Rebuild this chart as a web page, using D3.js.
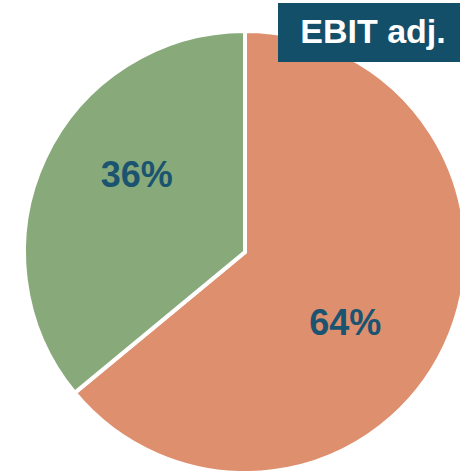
<!DOCTYPE html>
<html lang="en">
<head>
<meta charset="utf-8">
<title>EBIT adj. pie</title>
<script src="https://cdn.jsdelivr.net/npm/d3@7"></script>
<style>
  body { margin: 0; background: #fff; }
  svg { display: block; }
</style>
</head>
<body>
<script>
// shares of EBIT adj.
var categories = ["A", "B"];
var values = [64, 36];
var labels = ["64%", "36%"];
var title = "EBIT adj.";

var w = 460, h = 471;
var cx = 245, cy = 252, r = 221;

var color = d3.scaleOrdinal()
  .domain(categories)
  .range(["#DE8F6E", "#88AA7A"]);

var svg = d3.select("body").append("svg")
  .attr("width", w)
  .attr("height", h);

var pie = d3.pie().sort(null).value(function(d) { return d; });
var arcs = pie(values);

var arc = d3.arc().innerRadius(0).outerRadius(r);

var g = svg.append("g").attr("transform", "translate(" + cx + "," + cy + ")");

g.selectAll("path")
  .data(arcs)
  .enter()
  .append("path")
  .attr("d", arc)
  .attr("fill", function(d, i) { return color(categories[i]); })
  .attr("stroke", "#fff")
  .attr("stroke-width", 4)
  .attr("stroke-linejoin", "miter");

// labels sit a bit clockwise of the slice middle
var labelArc = d3.arc().innerRadius(128).outerRadius(128);
g.selectAll("text.pct")
  .data(arcs)
  .enter()
  .append("text")
  .attr("class", "pct")
  .attr("transform", function(d) {
    var shifted = {startAngle: d.startAngle + 0.18, endAngle: d.endAngle + 0.18};
    var c = labelArc.centroid(shifted);
    return "translate(" + (c[0] - 4) + "," + (c[1] - 4) + ")";
  })
  .attr("text-anchor", "middle")
  .attr("dy", "0.36em")
  .attr("font-family", "Liberation Sans, Arial, sans-serif")
  .attr("font-weight", "bold")
  .attr("font-size", 36)
  .attr("fill", "#1A5470")
  .text(function(d, i) { return labels[i]; });

// title box
svg.append("rect")
  .attr("x", 278).attr("y", 3)
  .attr("width", 182).attr("height", 59)
  .attr("fill", "#134F69");

svg.append("text")
  .attr("x", 373).attr("y", 43)
  .attr("text-anchor", "middle")
  .attr("font-family", "Liberation Sans, Arial, sans-serif")
  .attr("font-weight", "bold")
  .attr("font-size", 34)
  .attr("fill", "#fff")
  .text(title);
</script>
</body>
</html>
